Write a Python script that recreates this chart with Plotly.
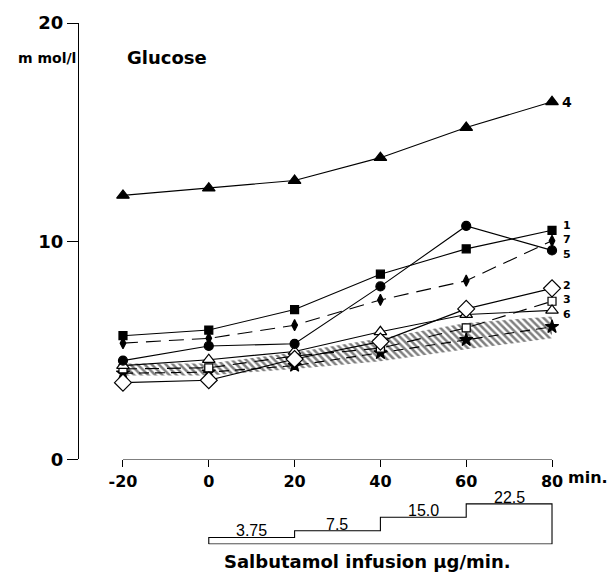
import plotly.graph_objects as go

# ---------------- data ----------------
minutes = [-20, 0, 20, 40, 60, 80]
tick_labels = ["-20", "0", "20", "40", "60", "80"]

s1 = [5.67, 5.93, 6.87, 8.49, 9.65, 10.5]
s2 = [3.52, 3.63, 4.6, 5.4, 6.9, 7.84]
s3 = [4.15, 4.2, 4.74, 5.1, 6.03, 7.25]
s4 = [12.1, 12.43, 12.78, 13.83, 15.21, 16.39]
s5 = [4.53, 5.2, 5.3, 7.93, 10.7, 9.58]
s6 = [4.3, 4.57, 4.95, 5.85, 6.64, 6.83]
s7 = [5.33, 5.55, 6.15, 7.31, 8.19, 10.02]
controls = [3.95, 4.0, 4.3, 4.88, 5.48, 6.08]
band_low = [3.85, 3.85, 4.15, 4.5, 5.05, 5.55]
band_high = [4.4, 4.4, 4.9, 5.55, 6.25, 6.55]

infusion_times = [0, 20, 40, 60, 80]
infusion_rates = [3.75, 7.5, 15.0, 22.5]
infusion_labels = ["3.75", "7.5", "15.0", "22.5"]

BOLD = "DejaVu Sans"
fig = go.Figure()

# hatched band
fig.add_trace(go.Scatter(
    x=minutes + minutes[::-1], y=band_high + band_low[::-1],
    fill="toself", mode="lines", line=dict(width=0, color="rgba(0,0,0,0)"),
    fillcolor="rgba(0,0,0,0)",
    fillpattern=dict(shape="\\", fgcolor="black", bgcolor="white", size=5, solidity=0.5),
    hoverinfo="skip", showlegend=False))

def series(y, symbol, size, filled=True, dash="solid", lw=1.1):
    fig.add_trace(go.Scatter(
        x=minutes, y=y, mode="lines+markers", cliponaxis=False,
        line=dict(color="black", width=lw, dash=dash),
        marker=dict(symbol=symbol, size=size,
                    color="black" if filled else "white",
                    line=dict(color="black", width=1.2)),
        showlegend=False))

series(controls, "star", 10, True, "10px,6px")
series(s3, "square", 8, False, "14px,8px")
series(s6, "triangle-up", 11, False)
series(s2, "diamond", 13, False)
series(s5, "circle", 9, True)
series(s7, "diamond-tall", 8, True, "15px,8px")
series(s1, "square", 8, True)
series(s4, "triangle-up", 11, True)

# series labels
lab_font = dict(family=BOLD, size=11, color="black", weight="bold")
fig.add_annotation(x=minutes[-1], y=s4[-1], text="4", showarrow=False,
                   xanchor="left", xshift=8, xref="x", yref="y",
                   font=dict(family=BOLD, size=14, color="black", weight="bold"))
fig.add_annotation(x=minutes[-1], y=s7[-1], text="1<br>7<br>5", showarrow=False,
                   xanchor="left", xshift=9, yanchor="middle", yshift=1,
                   xref="x", yref="y", font=lab_font)
fig.add_annotation(x=minutes[-1], y=s3[-1], text="2<br>3<br>6", showarrow=False,
                   xanchor="left", xshift=9, yanchor="middle", yshift=1,
                   xref="x", yref="y", font=lab_font)

# infusion schematic on a second y axis
px = [infusion_times[0], infusion_times[0]]
py = [0, infusion_rates[0]]
for i, r in enumerate(infusion_rates):
    px += [infusion_times[i + 1]]
    py += [r]
    if i + 1 < len(infusion_rates):
        px += [infusion_times[i + 1]]
        py += [infusion_rates[i + 1]]
px += [infusion_times[-1], infusion_times[0]]
py += [0, 0]
fig.add_trace(go.Scatter(x=px, y=py, yaxis="y2", mode="lines",
                         line=dict(color="black", width=1.1), showlegend=False,
                         cliponaxis=False))
for i, lab in enumerate(infusion_labels):
    fig.add_annotation(x=(infusion_times[i] + infusion_times[i + 1]) / 2,
                       y=infusion_rates[i], xref="x", yref="y2", text=lab,
                       showarrow=False, yanchor="bottom", yshift=-4,
                       font=dict(family="Liberation Sans", size=16, color="black"))

# x axis line (only from -20 to 80)
fig.add_shape(type="line", x0=minutes[0], x1=minutes[-1], y0=0, y1=0,
              xref="x", yref="y", line=dict(color="black", width=1.1))

fig.add_annotation(x=minutes[-1], y=0, xref="x", yref="y", text="min.",
                   showarrow=False, xanchor="left", xshift=14, yshift=-18,
                   font=dict(family=BOLD, size=16, color="black", weight="bold"))
fig.add_annotation(x=-9.7, y=18.4, xref="x", yref="y", text="Glucose",
                   showarrow=False,
                   font=dict(family=BOLD, size=18, color="black", weight="bold"))
fig.add_annotation(x=0, y=18.4, xref="paper", yref="y", text="m mol/l",
                   showarrow=False, xanchor="right", xshift=-1,
                   font=dict(family=BOLD, size=14, color="black", weight="bold"))
fig.add_annotation(x=37, y=-0.013, xref="x", yref="paper",
                   text="Salbutamol infusion µg/min.", showarrow=False,
                   yanchor="middle",
                   font=dict(family=BOLD, size=18, color="black", weight="bold"))

fig.update_layout(
    width=616, height=577,
    margin=dict(l=79, r=50, t=20, b=17),
    paper_bgcolor="white", plot_bgcolor="white",
    xaxis=dict(range=[-30.25, 83.26], showline=False, zeroline=False,
               showgrid=False, ticks="outside", ticklen=7, tickwidth=1.1,
               tickcolor="black", tickvals=minutes, ticktext=tick_labels,
               tickfont=dict(family=BOLD, size=16, color="black", weight="bold"),
               anchor="y"),
    yaxis=dict(domain=[0.1796, 1], range=[0, 20], showline=True,
               linecolor="black", linewidth=1.1, zeroline=False,
               showgrid=False, ticks="outside", ticklen=11, tickwidth=1.1,
               tickcolor="black", tickvals=[0, 10, 20],
               tickfont=dict(family=BOLD, size=18, color="black", weight="bold")),
    yaxis2=dict(domain=[0.0204, 0.1046], range=[0, 25], visible=False,
                anchor="x"),
    showlegend=False,
)

fig.write_html("out.html")
